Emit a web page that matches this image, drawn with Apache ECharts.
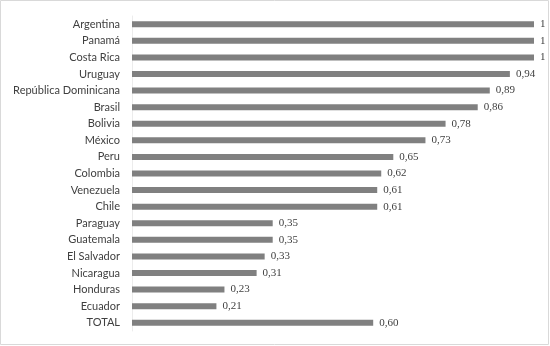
<!DOCTYPE html>
<html><head><meta charset="utf-8">
<script src="https://cdn.jsdelivr.net/npm/echarts@6/dist/echarts.min.js"></script>
<style>html,body{margin:0;padding:0;background:#fff}#c{width:550px;height:346px}</style>
</head><body><div id="c"></div>
<script>
const categories = ["Argentina","Panamá","Costa Rica","Uruguay","República Dominicana","Brasil","Bolivia","México","Peru","Colombia","Venezuela","Chile","Paraguay","Guatemala","El Salvador","Nicaragua","Honduras","Ecuador","TOTAL"];
const values = [1,1,1,0.94,0.89,0.86,0.78,0.73,0.65,0.62,0.61,0.61,0.35,0.35,0.33,0.31,0.23,0.21,0.60];
const chart = echarts.init(document.getElementById('c'));
chart.setOption({
  animation:false,
  graphic:[{type:'rect',shape:{x:0.5,y:0.5,width:548,height:344},style:{fill:'none',stroke:'#d9d9d9',lineWidth:1}}],
  grid:{left:132,right:16,top:16,bottom:15,containLabel:false},
  xAxis:{type:'value',min:0,max:1,show:false},
  yAxis:{type:'category',inverse:true,data:categories,
    axisLine:{show:true,lineStyle:{color:'#ececec'}},axisTick:{show:false},
    axisLabel:{color:'#404040',fontFamily:'Lato',fontSize:11,margin:12}},
  series:[{type:'bar',data:values,barWidth:6,itemStyle:{color:'#808080'},
    label:{show:true,position:'right',distance:6,color:'#404040',fontFamily:'Liberation Serif',fontSize:11,
      formatter:p=>p.value===1?'1':p.value.toFixed(2).replace('.',',')}}]
});
</script></body></html>
